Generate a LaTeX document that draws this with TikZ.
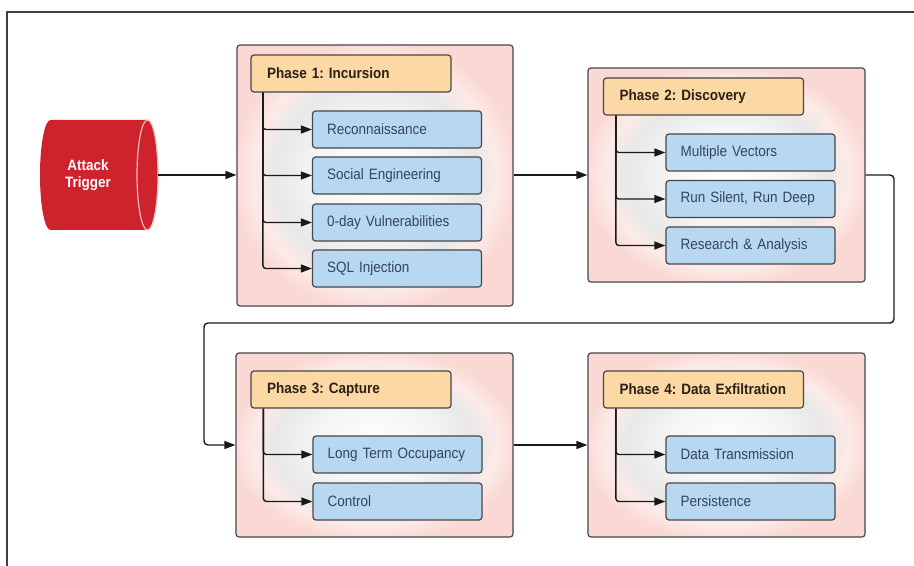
\documentclass[tikz,border=0pt]{standalone}
\usepackage{fontspec}
\setmainfont[FakeStretch=0.9]{Liberation Sans}
\usetikzlibrary{arrows.meta}
\definecolor{pinkbg}{HTML}{FAD9D4}
\definecolor{hdrfill}{HTML}{FCD8A4}
\definecolor{itemfill}{HTML}{B8D8F1}
\definecolor{edgecol}{HTML}{474747}
\definecolor{itemtext}{HTML}{34435F}
\definecolor{hdrtext}{HTML}{2A2018}
\definecolor{trigred}{HTML}{CE222D}
\definecolor{capline}{HTML}{F3B9BC}
\pgfdeclareradialshading{phaseshade}{\pgfpoint{0bp}{0bp}}{color(0bp)=(white); color(11bp)=(white!96!black); color(18bp)=(white!91!black); color(22bp)=(pinkbg!55!white); color(26bp)=(pinkbg); color(50bp)=(pinkbg)}
\tikzset{
  phasebox/.style={draw=edgecol, line width=1.2bp, rounded corners=3bp, shading=phaseshade, inner sep=0pt},
  hdrbox/.style={draw=edgecol, line width=1.2bp, rounded corners=3bp, fill=hdrfill, minimum width=200bp, minimum height=37bp, text width=168bp, inner xsep=16bp, inner ysep=0pt, align=left, font=\fontsize{15bp}{17bp}\selectfont\bfseries, text=hdrtext},
  itembox/.style={draw=edgecol, line width=1.2bp, rounded corners=3bp, fill=itemfill, minimum width=169bp, minimum height=37bp, text width=140bp, inner xsep=14.5bp, inner ysep=0pt, align=left, font=\fontsize{15bp}{17bp}\selectfont, text=itemtext},
  arr/.style={draw=black!90, line width=1.4bp, -{Triangle[length=11bp,width=8bp]}},
  branch/.style={arr, rounded corners=3bp},
  trigtext/.style={text=white, font=\fontsize{15bp}{17.5bp}\selectfont\bfseries, align=center, inner sep=0pt},
  frameline/.style={draw=black!75, line width=1.4bp}
}
\begin{document}
\frenchspacing
\begin{tikzpicture}[x=1bp, y=-1bp]
\useasboundingbox (0,0) rectangle (914,566);
\draw[frameline] (7,566) -- (7,12) -- (914,12);

% Attack trigger cylinder
\fill[trigred] (50.5,120) -- (147.5,120) arc[start angle=-90, end angle=90, x radius=10.5, y radius=55]
  -- (50.5,230) arc[start angle=90, end angle=270, x radius=10.5, y radius=55] -- cycle;
\draw[capline, line width=1.2bp] (147.5,175) ellipse[x radius=10.5, y radius=55];
\node[trigtext] (trig) at (88,175) {Attack\\Trigger};
\coordinate (trigR) at (158,175);

% Phase boxes
\node[phasebox, minimum width=276bp, minimum height=261bp] (p1) at (375,175.5) {};
\node[phasebox, minimum width=277bp, minimum height=214bp] (p2) at (726.5,175) {};
\node[phasebox, minimum width=277bp, minimum height=184bp] (p3) at (374.5,445) {};
\node[phasebox, minimum width=277bp, minimum height=184bp] (p4) at (726.5,445) {};

% Headers
\node[hdrbox] (h1) at (351,73.5) {Phase 1: Incursion};
\node[hdrbox] (h2) at (703.5,96.5) {Phase 2: Discovery};
\node[hdrbox] (h3) at (351,389.5) {Phase 3: Capture};
\node[hdrbox] (h4) at (703.5,389.5) {Phase 4: Data Exfiltration};

% Phase 1 items
\node[itembox] (i11) at (397,129.5) {Reconnaissance};
\node[itembox] (i12) at (397,175.5) {Social Engineering};
\node[itembox] (i13) at (397,222.5) {0-day Vulnerabilities};
\node[itembox] (i14) at (397,268.5) {SQL Injection};
% Phase 2 items
\node[itembox] (i21) at (750.5,152.5) {Multiple Vectors};
\node[itembox] (i22) at (750.5,199) {Run Silent, Run Deep};
\node[itembox] (i23) at (750.5,245.5) {Research \& Analysis};
% Phase 3 items
\node[itembox] (i31) at (397.5,454.5) {Long Term Occupancy};
\node[itembox] (i32) at (397.5,501.5) {Control};
% Phase 4 items
\node[itembox] (i41) at (750.5,454.5) {Data Transmission};
\node[itembox] (i42) at (750.5,501.5) {Persistence};

% Branch arrows
\foreach \i in {i11,i12,i13,i14}{\draw[branch] (h1.south west) ++(12.5,0) |- (\i.west);}
\foreach \i in {i21,i22,i23}{\draw[branch] (h2.south west) ++(13,0) |- (\i.west);}
\foreach \i in {i31,i32}{\draw[branch] (h3.south west) ++(13,0) |- (\i.west);}
\foreach \i in {i41,i42}{\draw[branch] (h4.south west) ++(13,0) |- (\i.west);}

% Flow connectors
\draw[arr] (trigR) -- (trig -| p1.west);
\draw[arr] (p1.east |- p2.east) -- (p2.west);
\coordinate (c1) at (894,175);
\coordinate (c2) at (894,323);
\coordinate (c3) at (204,323);
\coordinate (c4) at (204,445);
\draw[arr, rounded corners=4bp] (p2.east) -- (c1) -- (c2) -- (c3) -- (c4) -- (p3.west);
\draw[arr] (p3.east) -- (p4.west);
\end{tikzpicture}
\end{document}
